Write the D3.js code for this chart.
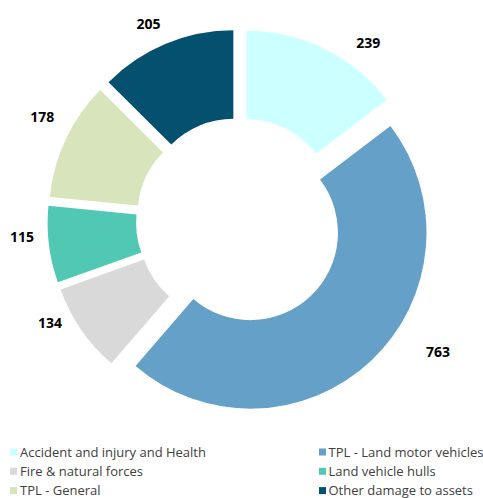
<html lang="en">
  <head>
  <meta charset="utf-8">
  <script src="https://d3js.org/d3.v7.min.js"></script>
  <style type="text/css">
    body { margin: 0; background: #fff; }
    .value-label {
      font-family: "Open Sans", sans-serif;
      font-size: 14px;
      font-weight: bold;
      fill: #000;
      text-anchor: middle;
    }
    .legend text {
      font-family: "Open Sans", sans-serif;
      font-size: 13px;
      fill: #404040;
    }
  </style>
  </head>
  <body>
    <div id="chart"></div>
    <script type="text/javascript">

    // data
    var categories = ["Accident and injury and Health", "TPL - Land motor vehicles", "Fire & natural forces",
                      "Land vehicle hulls", "TPL - General", "Other damage to assets"];
    var values = [239, 763, 134, 115, 178, 205];
    var colors = ["#ccffff", "#65a0c8", "#d9d9d9", "#50c8b4", "#d8e4bc", "#03506f"];

    // layout
    var width = 483, height = 498;
    var cx = 239.5, cy = 221;
    var outerR = 176, innerR = 87.5, explode = 16;
    // label placement (angle nudge in degrees, distance from centre)
    var labelTurn = [9.5, -13.2, 6.1, 2.9, 2.6, -2.2];
    var labelDist = [220, 238, 215.5, 218, 223, 217];

    var svg = d3.select("#chart").append("svg")
        .attr("width", width)
        .attr("height", height);

    var pie = d3.pie().sort(null).value(function(d){ return d; });
    var arcs = pie(values);

    var arc = d3.arc().innerRadius(innerR).outerRadius(outerR);

    var g = svg.append("g").attr("transform", "translate(" + cx + "," + cy + ")");

    g.selectAll("path.slice")
      .data(arcs)
      .enter().append("path")
      .attr("class", "slice")
      .attr("d", arc)
      .attr("transform", function(d){
        var mid = (d.startAngle + d.endAngle) / 2;
        return "translate(" + (Math.sin(mid) * explode) + "," + (-Math.cos(mid) * explode) + ")";
      })
      .style("fill", function(d, i){ return colors[i]; });

    g.selectAll("text.value-label")
      .data(arcs)
      .enter().append("text")
      .attr("class", "value-label")
      .attr("x", function(d, i){
        var a = (d.startAngle + d.endAngle) / 2 + labelTurn[i] * Math.PI / 180;
        return Math.sin(a) * labelDist[i];
      })
      .attr("y", function(d, i){
        var a = (d.startAngle + d.endAngle) / 2 + labelTurn[i] * Math.PI / 180;
        return -Math.cos(a) * labelDist[i];
      })
      .attr("dy", "0.35em")
      .text(function(d){ return d.data; });

    // legend: two columns, three rows
    var legend = svg.selectAll(".legend")
      .data(categories)
      .enter().append("g")
      .attr("class", "legend")
      .attr("transform", function(d, i){
        var col = i % 2, row = Math.floor(i / 2);
        return "translate(" + (col ? 319 : 10) + "," + (452 + row * 19.3) + ")";
      });

    legend.append("rect")
      .attr("x", 0)
      .attr("y", -3.5)
      .attr("width", 7)
      .attr("height", 7)
      .style("fill", function(d, i){ return colors[i]; });

    legend.append("text")
      .attr("x", function(d, i){ return i % 2 ? 9.5 : 10; })
      .attr("y", 0)
      .attr("dy", "0.35em")
      .text(String);

    </script>
  </body>
</html>
